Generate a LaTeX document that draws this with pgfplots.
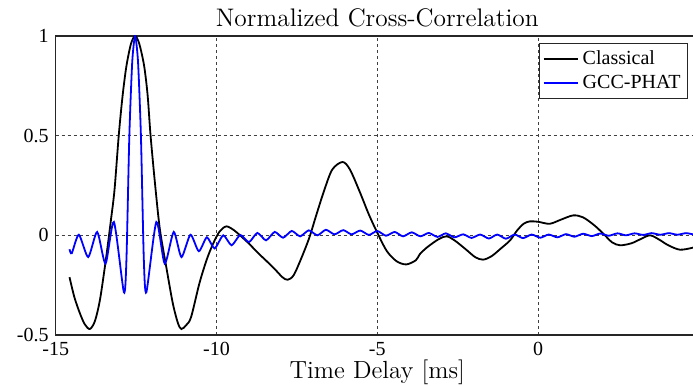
\documentclass[border=0pt]{standalone}
\usepackage{pgfplots}
\pgfplotsset{compat=1.18}
\usepackage{fontspec}
\newfontfamily\timesfont{Liberation Serif}

% Classical cross-correlation (normalized)
\pgfplotstableread{
x y
-14.57 -0.21
-14.42 -0.31
-14.25 -0.39
-14.10 -0.445
-13.94 -0.47
-13.78 -0.43
-13.62 -0.32
-13.43 -0.11
-13.28 0.08
-13.17 0.23
-13.04 0.50
-12.92 0.70
-12.80 0.85
-12.66 0.96
-12.53 1.00
-12.40 0.96
-12.25 0.85
-12.14 0.70
-12.05 0.50
-11.90 0.24
-11.76 0.03
-11.56 -0.16
-11.36 -0.34
-11.20 -0.44
-11.09 -0.47
-10.94 -0.45
-10.79 -0.41
-10.53 -0.24
-10.30 -0.12
-10.10 -0.04
-9.90 0.02
-9.69 0.045
-9.45 0.025
-9.27 0.0
-9.00 -0.04
-8.70 -0.09
-8.45 -0.128
-8.15 -0.176
-7.95 -0.21
-7.79 -0.223
-7.60 -0.20
-7.35 -0.11
-7.11 -0.01
-6.90 0.10
-6.65 0.226
-6.40 0.33
-6.08 0.368
-5.85 0.33
-5.55 0.22
-5.25 0.10
-4.96 0.0
-4.70 -0.08
-4.40 -0.13
-4.10 -0.146
-3.80 -0.125
-3.68 -0.095
-3.45 -0.06
-3.10 -0.02
-2.85 -0.005
-2.60 -0.025
-2.25 -0.07
-1.95 -0.11
-1.71 -0.122
-1.45 -0.105
-1.15 -0.065
-0.87 -0.025
-0.65 0.025
-0.45 0.058
-0.26 0.07
0.00 0.068
0.36 0.058
0.70 0.078
1.09 0.100
1.40 0.090
1.75 0.050
2.03 0.008
2.30 -0.035
2.55 -0.05
2.90 -0.04
3.20 -0.018
3.48 0.0
3.75 -0.02
4.05 -0.05
4.41 -0.072
4.81 -0.062
5.00 -0.05
}\classical

% GCC-PHAT cross-correlation (normalized)
\pgfplotstableread{
x y
-14.57 -0.07
-14.50 -0.09
-14.28 0.003
-13.99 -0.109
-13.71 0.017
-13.45 -0.142
-13.19 0.067
-12.88 -0.285
-12.80 -0.12
-12.71 0.50
-12.62 0.87
-12.53 1.00
-12.44 0.87
-12.35 0.50
-12.26 -0.12
-12.18 -0.285
-11.87 0.067
-11.61 -0.142
-11.33 0.017
-11.09 -0.109
-10.81 0.003
-10.55 -0.08
-10.30 -0.01
-10.06 -0.066
-9.79 0.0
-9.53 -0.05
-9.26 0.002
-8.99 -0.034
-8.73 0.012
-8.46 -0.025
-8.19 0.017
-7.93 -0.012
-7.66 0.022
-7.40 -0.005
-7.13 0.025
-6.86 0.0
-6.60 0.028
-6.33 0.005
-6.06 0.026
-5.80 0.005
-5.53 0.024
-5.26 0.002
-5.00 0.022
-4.73 -0.002
-4.46 0.017
-4.20 -0.005
-3.93 0.015
-3.66 -0.005
-3.40 0.012
-3.13 -0.008
-2.87 0.010
-2.60 -0.010
-2.33 0.005
-2.07 -0.013
-1.80 0.004
-1.53 -0.016
-1.27 0.004
-1.00 -0.017
-0.73 0.004
-0.47 -0.014
-0.20 0.004
0.07 -0.012
0.33 0.004
0.60 -0.010
0.87 0.006
1.13 -0.007
1.40 0.008
1.67 -0.004
1.93 0.009
2.20 -0.002
2.47 0.010
2.73 0.000
3.00 0.010
3.27 0.002
3.53 0.011
3.80 0.003
4.07 0.011
4.33 0.003
4.60 0.011
4.86 0.004
5.00 0.008
}\phat

\begin{document}
\begin{tikzpicture}
\begin{axis}[
  scale only axis,
  width=321.6pt, height=149.5pt,
  xmin=-15, xmax=5, ymin=-0.5, ymax=1,
  xtick={-15,-10,-5,0}, xticklabels={-15,-10,-5,0},
  ytick={-0.5,0,0.5,1}, yticklabels={-0.5,0,0.5,1},
  ticklabel style={font=\timesfont},
  major tick length=0pt,
  grid=major,
  major grid style={black!75, line width=0.4pt, dash pattern=on 1.5pt off 1.5pt},
  axis line style={black!85, line width=0.6pt},
  title={Normalized Cross-Correlation},
  title style={font=\fontsize{12.7}{15}\selectfont, yshift=-5pt},
  xlabel={Time Delay [ms]},
  xlabel style={font=\fontsize{12.4}{15}\selectfont, yshift=4.5pt},
  legend style={at={(0.752,0.977)}, anchor=north west, font=\timesfont,
    draw=black!85, inner sep=1.5pt, row sep=0pt},
  legend cell align=left,
]
\addplot[black, line width=0.9pt, smooth, tension=0.5] table[x=x, y=y] {\classical};
\addlegendentry{Classical}
\addplot[blue, line width=0.9pt, smooth, tension=0.4] table[x=x, y=y] {\phat};
\addlegendentry{GCC-PHAT}
\coordinate (sw) at (rel axis cs:0,0);
\end{axis}
\pgfresetboundingbox
\path ([shift={(-27.85pt,-25.5pt)}]sw) rectangle ([shift={(318.65pt,167.5pt)}]sw);
\end{tikzpicture}
\end{document}
